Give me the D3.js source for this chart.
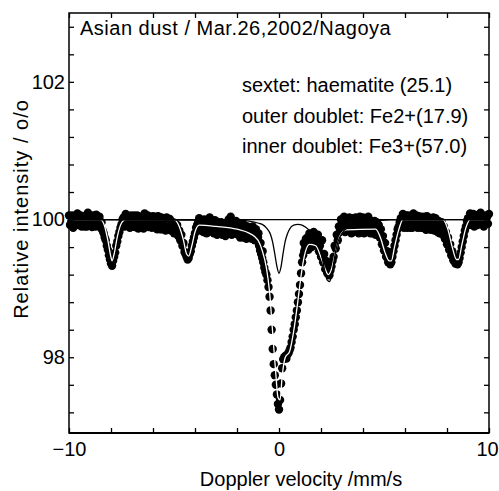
<!DOCTYPE html>
<meta charset="utf-8">
<style>
    body { margin: 0; background: #fff; }
    svg { display: block; font-family: "Liberation Sans", Arial, sans-serif; }
    .axis path { display: none; }
    .axis line { stroke: #000; stroke-width: 1.3px; }
    .axis text { font-size: 20px; fill: #000; font-family: "Liberation Sans", Arial, sans-serif; }
</style>
<body>
<svg width="499" height="491"></svg>
<script src="https://cdn.jsdelivr.net/npm/d3@7"></script>
<script>
    // measured spectrum: [velocity mm/s, relative intensity %]
    var spectrum = [
        [-10.0,100.06],[-9.9,99.96],[-9.8,99.88],[-9.7,99.98],[-9.6,100.09],[-9.5,100.02],[-9.4,99.90],[-9.3,99.95],
        [-9.2,100.06],[-9.1,100.10],[-9.0,99.98],[-8.9,99.89],[-8.8,99.96],[-8.7,100.07],[-8.6,99.97],[-8.5,99.88],
        [-8.4,99.84],[-8.3,99.74],[-8.2,99.62],[-8.1,99.48],[-8.0,99.36],[-7.95,99.33],[-7.9,99.40],[-7.8,99.52],
        [-7.7,99.68],[-7.6,99.82],[-7.5,99.93],
        [-7.4,100.03],[-7.3,100.08],[-7.2,99.97],[-7.1,99.88],[-7.0,99.95],[-6.9,100.06],[-6.8,99.98],[-6.7,99.87],
        [-6.6,99.93],[-6.5,100.04],[-6.4,100.09],[-6.3,99.99],[-6.2,99.89],[-6.1,99.94],[-6.0,100.05],[-5.9,99.96],
        [-5.8,99.86],[-5.7,99.92],[-5.6,100.03],[-5.5,99.94],[-5.4,99.84],[-5.3,99.90],[-5.2,100.01],[-5.1,99.91],
        [-5.0,99.80],[-4.9,99.86],[-4.8,99.76],
        [-4.7,99.70],[-4.6,99.62],[-4.5,99.53],[-4.4,99.46],[-4.3,99.44],[-4.2,99.54],[-4.1,99.68],[-4.0,99.80],[-3.9,99.92],
        [-3.8,100.02],[-3.7,99.93],[-3.6,99.82],[-3.5,99.88],[-3.4,99.98],[-3.3,100.03],[-3.2,99.92],[-3.1,99.80],
        [-3.0,99.86],[-2.9,99.96],[-2.8,99.89],[-2.7,99.78],[-2.6,99.84],[-2.5,99.95],[-2.4,100.00],[-2.3,100.04],
        [-2.2,99.92],[-2.1,99.80],[-2.0,99.86],[-1.9,99.95],[-1.8,99.84],[-1.7,99.74],[-1.6,99.80],[-1.5,99.90],
        [-1.4,99.82],[-1.3,99.72],[-1.2,99.78],[-1.1,99.86],[-1.0,99.74],
        [-0.95,99.62],[-0.9,99.55],[-0.85,99.50],[-0.8,99.44],[-0.75,99.38],[-0.7,99.30],[-0.65,99.24],[-0.6,99.20],
        [-0.55,99.12],[-0.5,99.02],[-0.45,98.88],[-0.4,98.68],[-0.35,98.40],[-0.3,98.12],[-0.25,97.90],[-0.2,97.74],
        [-0.15,97.60],[-0.1,97.46],[-0.05,97.32],[0.0,97.24],[0.05,97.38],[0.1,97.62],[0.15,97.84],[0.2,97.97],
        [0.25,98.00],[0.3,98.02],[0.35,97.98],[0.4,98.04],[0.45,98.06],[0.5,98.10],[0.55,98.14],[0.6,98.22],
        [0.65,98.30],[0.7,98.40],[0.75,98.48],[0.8,98.58],[0.85,98.68],[0.9,98.80],[0.95,98.92],[1.0,99.05],
        [1.05,99.22],[1.1,99.38],[1.15,99.48],[1.2,99.54],[1.25,99.60],
        [1.3,99.66],[1.4,99.56],[1.5,99.70],[1.6,99.62],[1.7,99.74],[1.8,99.64],[1.9,99.54],[2.0,99.46],
        [2.1,99.38],[2.2,99.28],[2.3,99.22],[2.4,99.19],[2.5,99.32],[2.6,99.46],[2.7,99.58],[2.8,99.70],
        [2.9,99.82],[3.0,99.96],[3.1,100.04],[3.2,99.94],[3.3,99.84],[3.4,99.90],[3.5,100.02],[3.6,99.96],
        [3.7,99.85],[3.8,99.80],[3.9,99.92],[4.0,100.03],[4.1,99.94],[4.2,99.84],[4.3,99.90],[4.4,99.98],
        [4.5,99.86],[4.6,99.78],[4.7,99.84],[4.8,99.74],
        [4.9,99.64],[5.0,99.55],[5.1,99.46],[5.2,99.38],[5.3,99.35],[5.4,99.46],[5.5,99.62],[5.6,99.78],[5.7,99.90],
        [5.8,100.02],[5.9,100.08],[6.0,99.98],[6.1,99.88],[6.2,99.94],[6.3,100.05],[6.4,100.09],[6.5,99.98],
        [6.6,99.88],[6.7,99.95],[6.8,100.04],[6.9,99.95],[7.0,99.85],[7.1,99.92],[7.2,100.02],[7.3,99.93],
        [7.4,99.84],[7.5,99.90],[7.6,99.98],[7.7,99.86],[7.8,99.78],[7.9,99.72],
        [8.0,99.64],[8.1,99.56],[8.2,99.48],[8.3,99.41],[8.4,99.36],[8.5,99.35],[8.6,99.44],[8.7,99.60],
        [8.8,99.76],[8.9,99.90],
        [9.0,100.02],[9.1,100.09],[9.2,99.99],[9.3,99.90],[9.4,99.97],[9.5,100.07],[9.6,100.10],[9.7,100.00],
        [9.8,99.92],[9.9,100.03],[10.0,100.08]
    ];

    // the interleaved half-step channels
    var spectrumMid = [
        [-9.95,99.92],[-9.85,100.06],[-9.75,100.05],[-9.65,99.94],[-9.55,99.92],[-9.45,100.06],[-9.35,100.05],[-9.25,99.90],
        [-9.15,99.90],[-9.05,99.92],[-8.95,100.05],[-8.85,100.06],[-8.75,99.90],[-8.65,99.92],[-8.55,100.04],
        [-8.45,99.96],[-8.35,99.80],[-8.25,99.70],[-8.15,99.56],[-8.05,99.42],[-7.85,99.46],[-7.75,99.62],[-7.65,99.76],
        [-7.55,99.88],[-7.45,100.00],
        [-7.35,99.90],[-7.25,99.92],[-7.15,100.05],[-7.05,100.06],[-6.95,99.90],[-6.85,99.89],[-6.75,100.06],[-6.65,100.04],
        [-6.55,99.88],[-6.45,99.87],[-6.35,99.92],[-6.25,100.06],[-6.15,100.04],[-6.05,99.88],[-5.95,99.90],[-5.85,100.04],
        [-5.75,100.05],[-5.65,99.86],[-5.55,99.86],[-5.45,100.02],[-5.35,100.03],[-5.25,99.86],[-5.15,99.84],[-5.05,99.96],
        [-4.95,99.95],[-4.85,99.92],[-4.75,99.84],
        [-4.65,99.78],[-4.55,99.66],[-4.45,99.50],[-4.35,99.42],[-4.25,99.50],[-4.15,99.62],[-4.05,99.74],[-3.95,99.88],[-3.85,99.96],
        [-3.75,99.84],[-3.65,99.98],[-3.55,100.00],[-3.45,99.80],[-3.35,99.82],[-3.25,99.84],[-3.15,99.98],[-3.05,99.99],
        [-2.95,99.78],[-2.85,99.80],[-2.75,99.96],[-2.65,99.94],[-2.55,99.76],[-2.45,99.82],[-2.35,99.86],[-2.25,99.78],
        [-2.15,99.96],[-2.05,99.98],[-1.95,99.78],[-1.85,99.74],[-1.75,99.90],[-1.65,99.92],[-1.55,99.72],[-1.45,99.76],
        [-1.35,99.88],[-1.25,99.90],[-1.15,99.70],[-1.05,99.80],
        [-0.98,99.80],[-0.88,99.66],[-0.78,99.54],[1.18,99.66],[1.28,99.72],
        [1.35,99.74],[1.45,99.80],[1.55,99.60],[1.65,99.82],[1.75,99.66],[1.85,99.78],[1.95,99.62],[2.05,99.70],
        [2.15,99.50],[2.25,99.40],[2.35,99.30],[2.45,99.26],[2.55,99.40],[2.65,99.62],[2.75,99.78],[2.85,99.90],
        [2.95,100.00],[3.05,99.84],[3.15,99.82],[3.25,100.02],[3.35,100.03],[3.45,99.80],[3.55,99.82],[3.65,100.03],
        [3.75,100.02],[3.85,100.04],[3.95,99.82],[4.05,99.80],[4.15,100.02],[4.25,100.04],[4.35,99.80],[4.45,99.80],
        [4.55,99.98],[4.65,99.96],[4.75,99.92],[4.85,99.86],
        [4.95,99.76],[5.05,99.66],[5.15,99.54],[5.25,99.40],[5.35,99.38],[5.45,99.54],[5.55,99.70],[5.65,99.86],[5.75,99.96],
        [5.85,99.90],[5.95,99.88],[6.05,100.06],[6.15,100.06],[6.25,99.88],[6.35,99.88],[6.45,99.90],[6.55,100.06],
        [6.65,100.05],[6.75,99.88],[6.85,99.88],[6.95,100.04],[7.05,100.05],[7.15,99.86],[7.25,99.85],[7.35,100.03],
        [7.45,100.02],[7.55,99.82],[7.65,99.80],[7.75,99.96],[7.85,99.90],[7.95,99.82],
        [8.05,99.74],[8.15,99.64],[8.25,99.54],[8.35,99.46],[8.45,99.40],[8.55,99.38],[8.65,99.52],[8.75,99.68],
        [8.85,99.84],[8.95,99.98],
        [9.05,99.92],[9.15,99.94],[9.25,100.08],[9.35,100.06],[9.45,99.92],[9.55,99.94],[9.65,99.96],[9.75,99.90],
        [9.85,100.06],[9.95,99.94]
    ];

    // total fitted curve (drawn white over the points)
    var fitTotal = [
        [-10,100],[-8.5,100],[-8.3,99.9],[-8.15,99.7],[-8.0,99.45],[-7.95,99.40],[-7.85,99.5],[-7.7,99.75],
        [-7.5,99.95],[-7.3,100],[-5.0,100],[-4.75,99.9],[-4.55,99.7],[-4.4,99.5],[-4.3,99.47],[-4.15,99.62],
        [-4.0,99.82],[-3.8,99.92],[-3.0,99.90],[-2.0,99.86],[-1.4,99.8],[-1.0,99.7],[-0.8,99.55],[-0.6,99.3],
        [-0.45,98.95],[-0.3,98.35],[-0.15,97.75],[-0.05,97.42],[0.05,97.38],[0.15,97.72],[0.3,98.0],[0.5,98.08],
        [0.7,98.38],[0.9,98.82],[1.05,99.18],[1.2,99.46],[1.45,99.64],[1.75,99.62],[2.0,99.45],[2.2,99.28],
        [2.35,99.2],[2.5,99.28],[2.7,99.55],[2.9,99.76],[3.2,99.85],[4.6,99.86],[4.85,99.72],[5.05,99.52],
        [5.25,99.4],[5.35,99.4],[5.5,99.6],[5.7,99.85],[5.9,100],[7.8,100],[8.05,99.85],[8.25,99.6],
        [8.45,99.42],[8.55,99.42],[8.7,99.62],[8.9,99.88],[9.1,100],[10,100]
    ];

    // outer doublet sub-spectrum (Fe2+)
    var outerDoublet = [
        [-10,100],[-2,99.99],[-1.5,99.98],[-1.0,99.95],[-0.8,99.93],[-0.6,99.88],[-0.5,99.84],[-0.4,99.78],
        [-0.3,99.67],[-0.2,99.50],[-0.1,99.32],[0,99.22],[0.1,99.32],[0.2,99.52],[0.3,99.69],[0.4,99.79],
        [0.5,99.86],[0.7,99.92],[0.9,99.93],[1.1,99.92],[1.3,99.88],[1.5,99.83],[1.7,99.76],[1.9,99.62],
        [2.0,99.52],[2.1,99.38],[2.2,99.22],[2.3,99.12],[2.4,99.10],[2.5,99.18],[2.6,99.36],[2.7,99.54],
        [2.8,99.67],[3.0,99.80],[3.3,99.89],[3.7,99.94],[4.5,99.98],[6,100],[10,100]
    ];

    var baseline = [[-10,100],[10,100]];

    var xTicks = [-10,-8,-6,-4,-2,0,2,4,6,8,10];
    var xLabels = [-10,0,10];
    var yTicks = [97.2,97.6,98,98.4,98.8,99.2,99.6,100,100.4,100.8,101.2,101.6,102,102.4,102.8];
    var yLabels = [98,100,102];

    var title = "Asian dust / Mar.26,2002/Nagoya";
    var legendLines = ["sextet: haematite (25.1)", "outer doublet: Fe2+(17.9)", "inner doublet: Fe3+(57.0)"];
    var xTitle = "Doppler velocity /mm/s";
    var yTitle = "Relative intensity / o/o";

    var svg = d3.select("svg");
    var x = d3.scaleLinear().domain([-10, 10]).range([69, 489]);
    var y = d3.scaleLinear().domain([96.9, 103]).range([433, 13]);

    var line = d3.line()
        .x(function(d) { return x(d[0]); })
        .y(function(d) { return y(d[1]); })
        .curve(d3.curveMonotoneX);

    // data points
    svg.append("g").selectAll("circle")
        .data(spectrum.concat(spectrumMid))
        .enter().append("circle")
        .attr("cx", function(d) { return x(d[0]); })
        .attr("cy", function(d) { return y(d[1]); })
        .attr("r", 4.2)
        .attr("fill", "#000");

    svg.append("path").datum(fitTotal)
        .attr("fill", "none").attr("stroke", "#fff").attr("stroke-width", 1.3)
        .attr("d", line);
    svg.append("path").datum(baseline)
        .attr("fill", "none").attr("stroke", "#000").attr("stroke-width", 1.3)
        .attr("d", line);
    svg.append("path").datum(outerDoublet)
        .attr("fill", "none").attr("stroke", "#000").attr("stroke-width", 1.3)
        .attr("d", line);

    // axes, ticks pointing inward
    var xAxisG = svg.append("g").attr("class", "axis")
        .attr("transform", "translate(0,433)")
        .call(d3.axisBottom(x).tickValues(xTicks).tickSize(-5).tickPadding(9)
            .tickFormat(function(d) { return xLabels.indexOf(d) >= 0 ? d3.format("d")(d) : ""; }));
    xAxisG.selectAll("text").filter(function(d) { return d === 10; }).attr("dx", "-2");
    svg.append("g").attr("class", "axis")
        .attr("transform", "translate(0,13)")
        .call(d3.axisTop(x).tickValues(xTicks).tickSize(-5).tickFormat(""));
    svg.append("g").attr("class", "axis")
        .attr("transform", "translate(69,0)")
        .call(d3.axisLeft(y).tickValues(yTicks).tickSize(-5).tickPadding(4)
            .tickFormat(function(d) { return yLabels.indexOf(d) >= 0 ? d : ""; }));
    svg.append("g").attr("class", "axis")
        .attr("transform", "translate(489,0)")
        .call(d3.axisRight(y).tickValues(yTicks).tickSize(-5).tickFormat(""));

    // frame
    svg.append("rect")
        .attr("x", 69).attr("y", 13).attr("width", 420).attr("height", 420)
        .attr("fill", "none").attr("stroke", "#000").attr("stroke-width", 1.5);
    svg.append("line")
        .attr("x1", 69).attr("x2", 489).attr("y1", 433).attr("y2", 433)
        .attr("stroke", "#000").attr("stroke-width", 2.2);

    // texts
    svg.append("text")
        .attr("x", 80).attr("y", 35)
        .attr("font-size", "20px").attr("letter-spacing", "0.5px")
        .text(title);

    svg.append("g").selectAll("text")
        .data(legendLines)
        .enter().append("text")
        .attr("x", 242)
        .attr("y", function(d, i) { return 92 + i * 30.5; })
        .attr("font-size", "20px")
        .text(function(d) { return d; });

    svg.append("text")
        .attr("x", 301).attr("y", 486)
        .attr("text-anchor", "middle").attr("font-size", "20px")
        .text(xTitle);

    svg.append("text")
        .attr("transform", "translate(28,209) rotate(-90)")
        .attr("text-anchor", "middle").attr("font-size", "20px").attr("letter-spacing", "1px")
        .text(yTitle);
</script>
</body>
